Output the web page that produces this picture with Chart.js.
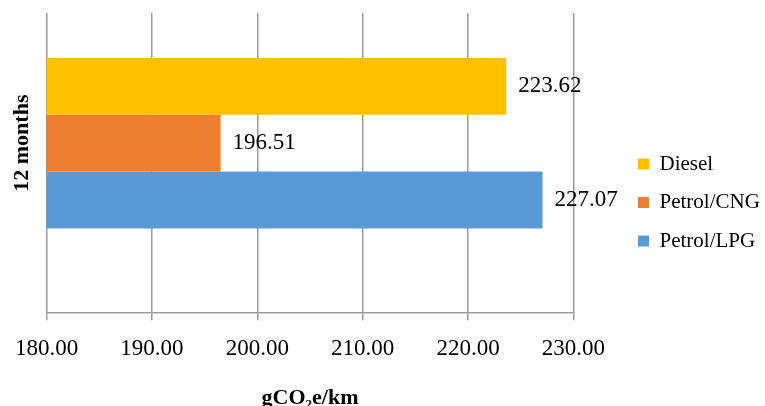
<!DOCTYPE html>
<html lang="en">
<head>
    <meta charset="UTF-8">
    <title>gCO2e/km - 12 months</title>
    <script src="https://cdn.jsdelivr.net/npm/chart.js"></script>
    <style>
        html, body { margin: 0; padding: 0; background: #fff; }
        #box { width: 765px; height: 406px; }
    </style>
</head>
<body>
<div id="box">
    <canvas id="grafico"></canvas>
</div>

<script>
    // dados do grafico
    var categorias = ['12 months'];
    var combustiveis = ['Diesel', 'Petrol/CNG', 'Petrol/LPG'];
    var emissoes = [223.62, 196.51, 227.07];
    var cores = ['#FFC000', '#ED7D31', '#5B9BD5'];
    var eixoMin = 180;
    var eixoMax = 230;
    var eixoPasso = 10;

    Chart.defaults.font.family = '"Liberation Serif", "Times New Roman", serif';
    Chart.defaults.font.size = 23;
    Chart.defaults.color = '#000';

    var datasets = [];
    for (var i = 0; i < combustiveis.length; i++) {
        datasets.push({
            label: combustiveis[i],
            data: [emissoes[i]],
            backgroundColor: cores[i],
            borderWidth: 0,
            yAxisID: 'y'
        });
    }

    // escreve o valor ao lado de cada barra
    const rotulos = {
        id: 'rotulos',
        afterDatasetsDraw(chart) {
            const ctx = chart.ctx;
            ctx.save();
            ctx.font = '23px "Liberation Serif", "Times New Roman", serif';
            ctx.fillStyle = '#000';
            ctx.textBaseline = 'middle';
            ctx.textAlign = 'left';
            chart.data.datasets.forEach(function (ds, d) {
                chart.getDatasetMeta(d).data.forEach(function (barra, k) {
                    ctx.fillText(ds.data[k].toFixed(2), barra.x + 12, barra.y);
                });
            });
            ctx.restore();
        }
    };

    // a legenda fica mais afastada do grafico
    const legendaDireita = {
        id: 'legendaDireita',
        afterLayout(chart) {
            const lg = chart.legend;
            const dy = -10;
            lg.left = 638 - lg.options.labels.padding;
            lg.right = chart.width;
            lg.top += dy;
            lg.bottom += dy;
        }
    };

    new Chart(document.getElementById('grafico'), {
        type: 'bar',
        data: {
            labels: categorias,
            datasets: datasets
        },
        options: {
            indexAxis: 'y',
            responsive: true,
            maintainAspectRatio: false,
            animation: false,
            categoryPercentage: 0.655,
            barPercentage: 1,
            layout: {
                autoPadding: false,
                padding: { top: 13, left: 5.6, right: 78, bottom: -6 }
            },
            scales: {
                x: {
                    min: eixoMin,
                    max: eixoMax,
                    ticks: {
                        stepSize: eixoPasso,
                        padding: 15,
                        callback: function (v) { return Number(v).toFixed(2); }
                    },
                    grid: {
                        color: '#9c9c9c',
                        lineWidth: 1.5,
                        drawTicks: true,
                        tickLength: 7
                    },
                    border: { color: '#9c9c9c', width: 1.5 },
                    title: {
                        display: true,
                        text: 'gCO₂e/km',
                        font: { weight: 'bold', size: 22 },
                        padding: { top: 7.8, bottom: 0 }
                    }
                },
                y: {
                    stack: 'vertical',
                    stackWeight: 261,
                    weight: 1,
                    ticks: { display: false },
                    grid: { display: false },
                    border: { display: false },
                    title: {
                        display: true,
                        text: categorias[0],
                        font: { weight: 'bold', size: 22 },
                        padding: { top: 0, bottom: 3 }
                    }
                },
                // espaco vazio abaixo das barras
                y2: {
                    type: 'linear',
                    position: 'left',
                    stack: 'vertical',
                    stackWeight: 40,
                    weight: 0,
                    ticks: { display: false },
                    grid: { display: false },
                    border: { display: false },
                    afterFit: function (escala) { escala.width = 0; }
                }
            },
            plugins: {
                legend: {
                    position: 'right',
                    align: 'center',
                    labels: {
                        boxWidth: 11,
                        boxHeight: 11,
                        padding: 17.5,
                        color: '#000',
                        font: { size: 21 }
                    }
                },
                tooltip: { enabled: false }
            }
        },
        plugins: [rotulos, legendaDireita]
    });
</script>
</body>
</html>
